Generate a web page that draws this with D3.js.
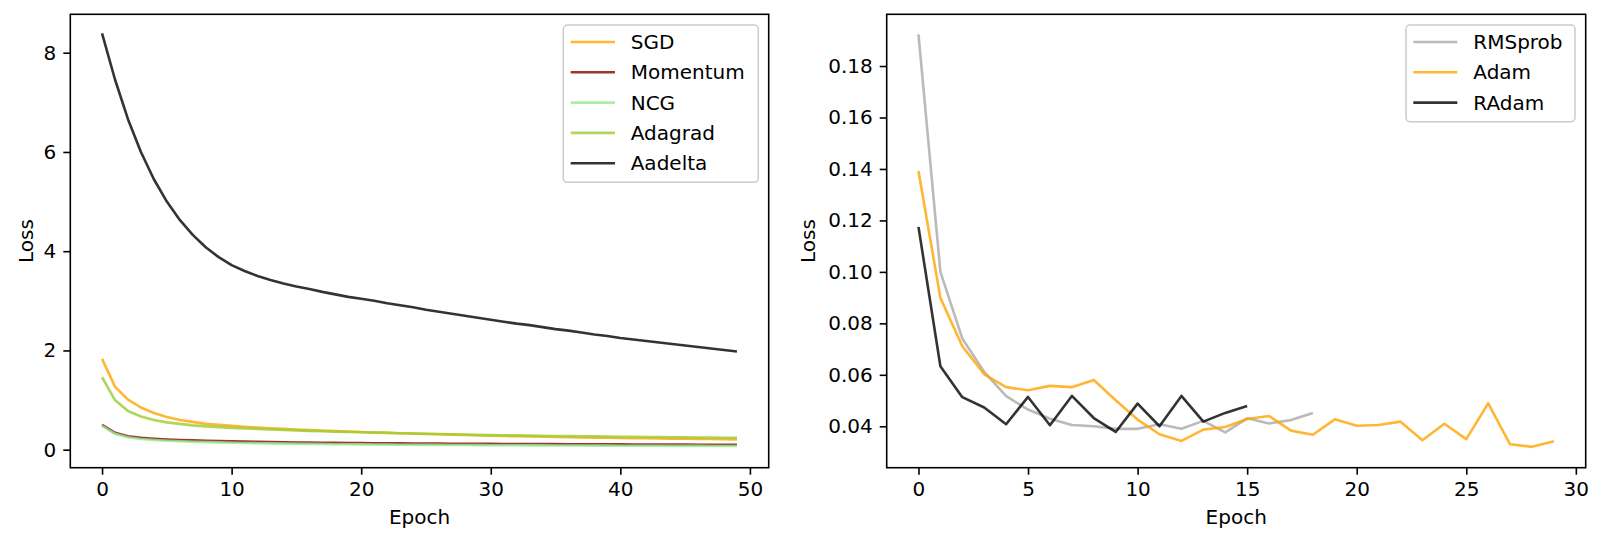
<!DOCTYPE html>
<html>
<head>
<meta charset="utf-8">
<script src="https://cdn.jsdelivr.net/npm/d3@7"></script>
<style>
  html, body { margin: 0; padding: 0; background: #fff; }
  svg { display: block; font-family: "DejaVu Sans", sans-serif; }
</style>
</head>
<body>
<svg id="chart" width="1603" height="545"></svg>
<script>
// ---------- data ----------
const sgd = [1.83,1.27,1.01,0.85,0.74,0.66,0.60,0.56,0.52,0.50,0.48,0.46,0.445,0.43,0.42,0.405,0.395,0.385,0.375,0.365,0.355,0.345,0.34,0.33,0.325,0.315,0.31,0.30,0.295,0.285,0.28,0.275,0.27,0.265,0.26,0.255,0.25,0.247,0.243,0.24,0.236,0.232,0.229,0.226,0.223,0.22,0.217,0.214,0.211,0.208];
const momentum = [0.50,0.34,0.27,0.24,0.22,0.205,0.195,0.187,0.18,0.173,0.167,0.162,0.157,0.153,0.149,0.146,0.143,0.14,0.137,0.135,0.133,0.131,0.129,0.127,0.125,0.124,0.122,0.121,0.12,0.118,0.117,0.116,0.115,0.114,0.113,0.112,0.111,0.11,0.109,0.108,0.107,0.106,0.105,0.104,0.103,0.102,0.101,0.1,0.099,0.098];
const ncg = [0.48,0.32,0.25,0.215,0.195,0.18,0.17,0.16,0.153,0.147,0.141,0.136,0.131,0.127,0.123,0.12,0.117,0.114,0.111,0.109,0.107,0.105,0.103,0.101,0.099,0.097,0.096,0.094,0.093,0.091,0.09,0.089,0.088,0.087,0.086,0.085,0.084,0.083,0.082,0.081,0.08,0.079,0.079,0.078,0.077,0.077,0.076,0.075,0.075,0.074];
const adagrad = [1.46,1.00,0.78,0.67,0.60,0.55,0.52,0.49,0.47,0.455,0.44,0.43,0.42,0.41,0.40,0.39,0.38,0.372,0.364,0.357,0.35,0.344,0.338,0.332,0.326,0.32,0.315,0.31,0.305,0.30,0.296,0.292,0.288,0.284,0.28,0.277,0.274,0.271,0.268,0.265,0.262,0.259,0.256,0.253,0.25,0.248,0.246,0.244,0.242,0.24];
const aadelta = [8.39,7.46,6.66,6.00,5.45,5.00,4.63,4.33,4.08,3.88,3.72,3.60,3.50,3.42,3.35,3.29,3.24,3.18,3.13,3.08,3.04,3.00,2.95,2.91,2.87,2.82,2.78,2.74,2.70,2.66,2.62,2.58,2.54,2.51,2.47,2.43,2.40,2.36,2.32,2.29,2.25,2.22,2.19,2.16,2.13,2.10,2.07,2.04,2.01,1.98];

const rmsprob = [0.1923,0.1000,0.0741,0.0611,0.0517,0.0465,0.0429,0.0405,0.0400,0.0390,0.0390,0.0408,0.0390,0.0421,0.0376,0.0431,0.0411,0.0424,0.0452];
const adam = [0.1392,0.0899,0.0711,0.0602,0.0552,0.0540,0.0557,0.0552,0.0580,0.0501,0.0426,0.0369,0.0343,0.0387,0.0397,0.0428,0.0440,0.0383,0.0367,0.0427,0.0402,0.0405,0.0418,0.0346,0.0410,0.0350,0.0489,0.0330,0.0320,0.0342];
const radam = [0.1175,0.0633,0.0513,0.0473,0.0408,0.0514,0.0404,0.0518,0.0432,0.0378,0.0488,0.0400,0.0518,0.0418,0.0452,0.0479];

const leftNames = ["SGD","Momentum","NCG","Adagrad","Aadelta"];
const leftColors = ["#ffa500","#8b0000","#90ee90","#9acd32","#000000"];
const rightNames = ["RMSprob","Adam","RAdam"];
const rightColors = ["#a9a9a9","#ffa500","#000000"];

const leftXTicks = [0,10,20,30,40,50];
const leftYTicks = [0,2,4,6,8];
const rightXTicks = [0,5,10,15,20,25,30];
const rightYTicks = [0.04,0.06,0.08,0.10,0.12,0.14,0.16,0.18];

// ---------- drawing ----------
const svg = d3.select("#chart");
const FS = 20;
const LW = 2.6;

function panel(cfg) {
  const x = d3.scaleLinear().domain(cfg.xDomain).range([cfg.x0, cfg.x1]);
  const y = d3.scaleLinear().domain(cfg.yDomain).range([cfg.y1, cfg.y0]);
  const g = svg.append("g");

  const line = d3.line().x((d, i) => x(i)).y(d => y(d));
  cfg.series.forEach((s, k) => {
    g.append("path")
      .datum(s)
      .attr("d", line)
      .attr("fill", "none")
      .attr("stroke", cfg.colors[k])
      .attr("stroke-opacity", 0.8)
      .attr("stroke-width", LW)
      .attr("stroke-linejoin", "round")
      .attr("stroke-linecap", "butt");
  });

  const xa = g.append("g").attr("transform", `translate(0,${cfg.y1})`)
    .call(d3.axisBottom(x).tickValues(cfg.xTicks).tickSize(7).tickPadding(7).tickFormat(d3.format("d")));
  const ya = g.append("g").attr("transform", `translate(${cfg.x0},0)`)
    .call(d3.axisLeft(y).tickValues(cfg.yTicks).tickSize(7).tickPadding(7).tickFormat(cfg.yFormat));
  [xa, ya].forEach(a => {
    a.select(".domain").remove();
    a.selectAll(".tick line").attr("stroke", "#000").attr("stroke-width", 1.6);
    a.selectAll(".tick text").attr("fill", "#000").style("font-size", FS + "px").style("font-family", "DejaVu Sans");
  });

  g.append("rect")
    .attr("x", cfg.x0).attr("y", cfg.y0)
    .attr("width", cfg.x1 - cfg.x0).attr("height", cfg.y1 - cfg.y0)
    .attr("fill", "none").attr("stroke", "#000").attr("stroke-width", 1.6);

  g.append("text")
    .attr("x", (cfg.x0 + cfg.x1) / 2).attr("y", 524)
    .attr("text-anchor", "middle").style("font-size", FS + "px")
    .text("Epoch");
  g.append("text")
    .attr("transform", `translate(${cfg.ylabelX},${(cfg.y0 + cfg.y1) / 2}) rotate(-90)`)
    .attr("text-anchor", "middle").style("font-size", FS + "px")
    .text("Loss");

  const L = cfg.legend;
  const lg = g.append("g");
  lg.append("rect")
    .attr("x", L.x).attr("y", L.y).attr("width", L.w).attr("height", L.h)
    .attr("rx", 4).attr("ry", 4)
    .attr("fill", "#fff").attr("fill-opacity", 0.8)
    .attr("stroke", "#cccccc").attr("stroke-width", 1.5);
  cfg.names.forEach((n, k) => {
    const cy = L.firstRow + k * L.step;
    lg.append("line")
      .attr("x1", L.hx0).attr("x2", L.hx1).attr("y1", cy).attr("y2", cy)
      .attr("stroke", cfg.colors[k]).attr("stroke-opacity", 0.8)
      .attr("stroke-width", LW);
    lg.append("text")
      .attr("x", L.tx).attr("y", cy + 7)
      .style("font-size", FS + "px")
      .text(n);
  });
}

panel({
  x0: 70.3, x1: 768.7, y0: 14.3, y1: 467.7,
  xDomain: [-2.45, 51.45], yDomain: [-0.363, 8.774],
  xTicks: leftXTicks, yTicks: leftYTicks, yFormat: d3.format("d"),
  series: [sgd, momentum, ncg, adagrad, aadelta],
  names: leftNames, colors: leftColors,
  ylabelX: 33,
  legend: { x: 563.3, y: 25, w: 195, h: 157.3, hx0: 570.7, hx1: 615, tx: 630.7, firstRow: 42, step: 30.3 }
});

panel({
  x0: 886.7, x1: 1585.7, y0: 14.3, y1: 467.7,
  xDomain: [-1.45, 30.45], yDomain: [0.0239, 0.2001],
  xTicks: rightXTicks, yTicks: rightYTicks, yFormat: d3.format(".2f"),
  series: [rmsprob, adam, radam],
  names: rightNames, colors: rightColors,
  ylabelX: 815,
  legend: { x: 1406, y: 25, w: 169, h: 96.7, hx0: 1413.3, hx1: 1457.3, tx: 1473.3, firstRow: 42, step: 30.3 }
});
</script>
</body>
</html>
